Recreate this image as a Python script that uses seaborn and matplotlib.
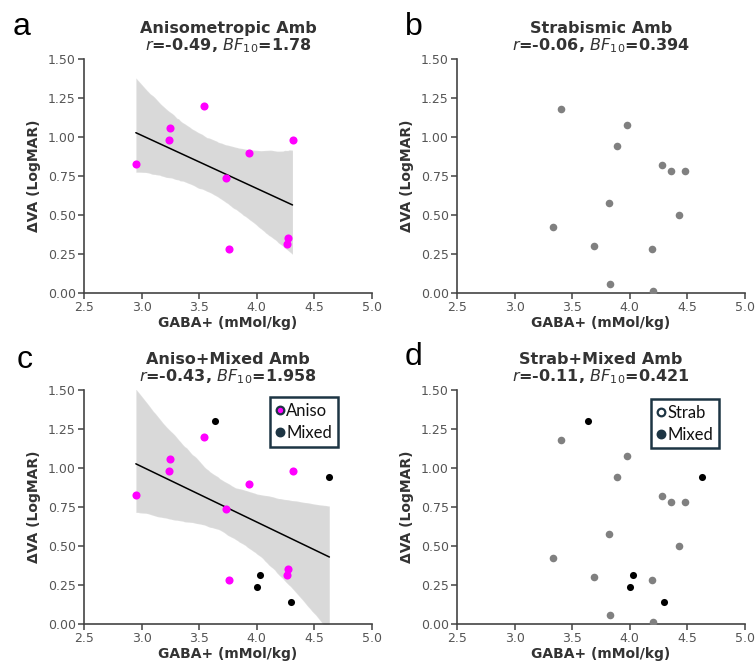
import numpy as np
import pandas as pd
import seaborn as sns
import matplotlib
matplotlib.use("Agg")
import matplotlib.pyplot as plt
from matplotlib.lines import Line2D

# GABA+ concentration (mMol/kg) and interocular acuity difference (LogMAR)
aniso_gaba = [2.95, 3.25, 3.24, 3.54, 3.73, 3.76, 3.93, 4.31, 4.27, 4.26]
aniso_dva = [0.83, 1.06, 0.98, 1.20, 0.74, 0.28, 0.90, 0.98, 0.355, 0.315]

strab_gaba = [3.40, 3.98, 3.89, 4.28, 4.36, 4.48, 3.82, 4.43, 3.33, 3.69, 4.19, 3.83, 4.20]
strab_dva = [1.18, 1.08, 0.94, 0.82, 0.78, 0.78, 0.58, 0.50, 0.42, 0.30, 0.28, 0.06, 0.015]

mixed_gaba = [3.64, 4.63, 4.03, 4.00, 4.30]
mixed_dva = [1.30, 0.94, 0.315, 0.235, 0.14]

panel_letters = ["a", "b", "c", "d"]
panel_titles = ["Anisometropic Amb", "Strabismic Amb", "Aniso+Mixed Amb", "Strab+Mixed Amb"]
panel_r = ["-0.49", "-0.06", "-0.43", "-0.11"]
panel_bf = ["1.78", "0.394", "1.958", "0.421"]

x_ticks = [2.5, 3.0, 3.5, 4.0, 4.5, 5.0]
y_ticks = [0.00, 0.25, 0.50, 0.75, 1.00, 1.25, 1.50]

aniso = pd.DataFrame({"gaba": aniso_gaba, "dva": aniso_dva, "group": "Aniso"})
strab = pd.DataFrame({"gaba": strab_gaba, "dva": strab_dva, "group": "Strab"})
mixed = pd.DataFrame({"gaba": mixed_gaba, "dva": mixed_dva, "group": "Mixed"})
aniso_mixed = pd.concat([aniso, mixed], ignore_index=True)
strab_mixed = pd.concat([strab, mixed], ignore_index=True)

sns.set_theme(style="ticks")
plt.rcParams["font.family"] = ["DejaVu Sans"]
plt.rcParams["mathtext.fontset"] = "dejavusans"

MAGENTA = "#ff00ff"
GREY = "#808080"
BLACK = "#000000"
TICK_COL = "#555555"
LABEL_COL = "#333333"
SPINE_COL = "#444444"
LEGEND_EDGE = "#1d3544"

W, H = 756, 668
fig = plt.figure(figsize=(W / 100, H / 100), dpi=100)

def px_axes(left, top, right, bottom):
    return fig.add_axes([left / W, 1 - bottom / H, (right - left) / W, (bottom - top) / H])

axes = [
    px_axes(84, 59, 372, 293),
    px_axes(457, 59, 745, 293),
    px_axes(84, 390, 372, 624),
    px_axes(457, 390, 745, 624),
]

def style_axes(ax):
    ax.set_xlim(2.5, 5.0)
    ax.set_ylim(0, 1.5)
    ax.set_xticks(x_ticks)
    ax.set_yticks(y_ticks)
    ax.set_xticklabels([f"{t:.1f}" for t in x_ticks])
    ax.set_yticklabels([f"{t:.2f}" for t in y_ticks])
    sns.despine(ax=ax)
    for s in ("left", "bottom"):
        ax.spines[s].set_color(SPINE_COL)
        ax.spines[s].set_linewidth(1.2)
    ax.tick_params(axis="both", labelsize=9, colors=SPINE_COL, labelcolor=TICK_COL,
                   length=4, width=1.1, pad=2)
    ax.set_xlabel("GABA+ (mMol/kg)", fontsize=10, fontweight="bold", color=LABEL_COL, labelpad=1)
    ax.set_ylabel("ΔVA (LogMAR)", fontsize=10, fontweight="bold", color=LABEL_COL, labelpad=5)

def add_title(ax, i):
    ax.annotate(panel_titles[i], xy=(0.5, 1.0), xycoords="axes fraction",
                xytext=(0, 18.5), textcoords="offset points", ha="center", va="baseline",
                fontsize=11.5, fontweight="bold", color=LABEL_COL)
    stats = rf"$\mathit{{r}}$=" + panel_r[i] + r", $\mathit{BF}_{10}$=" + panel_bf[i]
    ax.annotate(stats, xy=(0.5, 1.0), xycoords="axes fraction",
                xytext=(0, 6.5), textcoords="offset points", ha="center", va="baseline",
                fontsize=11.5, fontweight="bold", color=LABEL_COL)

def scatter(ax, df, color, size):
    sns.scatterplot(data=df, x="gaba", y="dva", color=color, s=size, linewidth=0,
                    ax=ax, legend=False, zorder=3, clip_on=True)

def fit(ax, df):
    sns.regplot(data=df, x="gaba", y="dva", scatter=False, ci=95, seed=3, n_boot=1000,
                color=BLACK, line_kws={"linewidth": 1.1}, ax=ax, truncate=True)

# a: anisometropic
fit(axes[0], aniso)
scatter(axes[0], aniso, MAGENTA, 34)

# b: strabismic
scatter(axes[1], strab, GREY, 30)

# c: aniso + mixed with combined fit
fit(axes[2], aniso_mixed)
scatter(axes[2], aniso, MAGENTA, 34)
scatter(axes[2], mixed, BLACK, 26)

# d: strab + mixed
scatter(axes[3], strab, GREY, 30)
scatter(axes[3], mixed, BLACK, 26)

for i, ax in enumerate(axes):
    style_axes(ax)
    add_title(ax, i)

def group_legend(ax, first_label, first_fill, anchor):
    handles = [
        Line2D([], [], marker="o", linestyle="none", markersize=5.5,
               markerfacecolor=first_fill, markeredgecolor=LEGEND_EDGE, markeredgewidth=1.6),
        Line2D([], [], marker="o", linestyle="none", markersize=5.5,
               markerfacecolor=LEGEND_EDGE, markeredgecolor=LEGEND_EDGE, markeredgewidth=1.6),
    ]
    leg = ax.legend(handles, [first_label, "Mixed"], loc="upper right",
                    bbox_to_anchor=anchor, frameon=True, fancybox=False,
                    handlelength=0.5, handletextpad=0.15, borderpad=0.35,
                    labelspacing=0.35, borderaxespad=0,
                    prop={"family": "Lato", "size": 12})
    frame = leg.get_frame()
    frame.set_edgecolor(LEGEND_EDGE)
    frame.set_linewidth(1.8)
    frame.set_alpha(1)
    for t in leg.get_texts():
        t.set_color("#111111")

group_legend(axes[2], "Aniso", MAGENTA, (0.882, 0.968))
group_legend(axes[3], "Strab", "white", (0.91, 0.962))

# panel letters
letter_pos = [(13, 35), (405, 35), (17, 368), (405, 365)]
for letter, (x, y) in zip(panel_letters, letter_pos):
    fig.text(x / W, 1 - y / H, letter, fontsize=23, family="Liberation Sans",
             color="black", ha="left", va="baseline")

fig.savefig("out.png", dpi=100)
